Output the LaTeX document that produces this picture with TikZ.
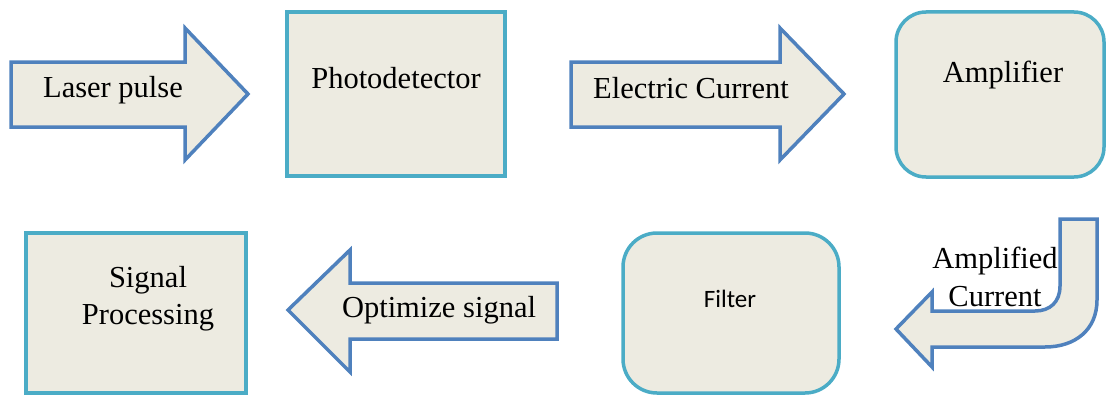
\documentclass[tikz,border=0pt]{standalone}
\usepackage{fontspec}
\setmainfont{Liberation Serif}
\newfontfamily\calfont{Carlito}
\definecolor{fillc}{HTML}{EDEBE1}
\definecolor{arrowc}{HTML}{4F81BD}
\definecolor{boxc}{HTML}{4BACC6}
\tikzset{
  arrowshape/.style={draw=arrowc, fill=fillc, line width=3.5pt, line join=miter},
  boxshape/.style={draw=boxc, fill=fillc, line width=3.5pt},
  lbl/.style={font=\fontsize{30.5}{33}\selectfont, inner sep=0pt, anchor=center},
}
\begin{document}
\begin{tikzpicture}[x=1pt,y=-1pt]
\useasboundingbox (0,0) rectangle (1107,396);
% Laser pulse arrow
\draw[arrowshape] (11,62) -- (185,62) -- (185,28) -- (248,94) -- (185,160) -- (185,127) -- (11,127) -- cycle;
\node[lbl] (laser) at (113,90) {Laser pulse};
% Photodetector
\draw[boxshape] (287,12) rectangle (505,176);
\node[lbl] (photo) at (396,78) {Photodetector};
% Electric current arrow
\draw[arrowshape] (571,62) -- (780,62) -- (780,28) -- (844,94) -- (780,160) -- (780,127) -- (571,127) -- cycle;
\node[lbl] (elec) at (691,88) {Electric Current};
% Amplifier
\draw[boxshape, rounded corners=30pt] (896,12) rectangle (1104,177);
\node[lbl] (amp) at (1003,75) {Amplifier};
% Bent arrow
\draw[arrowshape] (1060,219) -- (1097,219) -- (1097,300)
  .. controls (1097,330) and (1075,347) .. (1045,347)
  -- (932,347) -- (932,367) -- (896,329) -- (932,292) -- (932,311) -- (1035,311)
  .. controls (1050,311) and (1060,302) .. (1060,286) -- cycle;
\node[lbl] (ampl1) at (995,261) {Amplified};
\node[lbl] (ampl2) at (995,297) {Current};
% Filter
\draw[boxshape, rounded corners=34pt] (623,233) rectangle (839,393);
\node[inner sep=0pt, font=\calfont\fontsize{25}{28}\selectfont] (filter) at (730,299) {Filter};
% Optimize signal arrow
\draw[arrowshape] (557,283) -- (350,283) -- (350,250) -- (288,310) -- (350,372) -- (350,339) -- (557,339) -- cycle;
\node[lbl] (opt) at (439,310) {Optimize signal};
% Signal processing
\draw[boxshape] (26,233) rectangle (246,393);
\node[lbl] (sp1) at (148,280) {Signal};
\node[lbl] (sp2) at (148,318) {Processing};
\end{tikzpicture}
\end{document}
